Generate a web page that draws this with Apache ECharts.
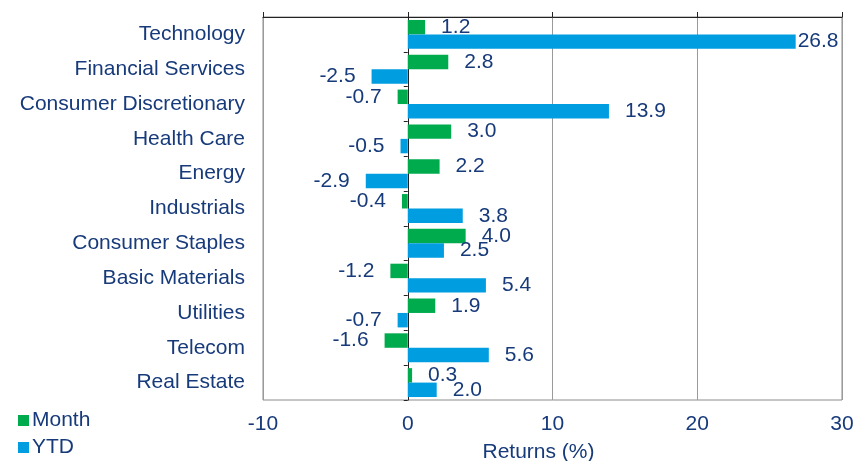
<!DOCTYPE html>
<html>
<head>
    <meta charset="UTF-8"/>
    <title>sector returns</title>
    <script type="text/javascript" src="https://cdn.jsdelivr.net/npm/echarts@6/dist/echarts.min.js"></script>
    <style>
        html, body { margin: 0; padding: 0; background: #fff; }
        #chart { width: 855px; height: 461px; }
    </style>
</head>
<body>
<div id="chart"></div>
<script>
    // 数据
    var sectors = ['Technology', 'Financial Services', 'Consumer Discretionary', 'Health Care', 'Energy',
        'Industrials', 'Consumer Staples', 'Basic Materials', 'Utilities', 'Telecom', 'Real Estate'];
    var monthVals = [1.2, 2.8, -0.7, 3.0, 2.2, -0.4, 4.0, -1.2, 1.9, -1.6, 0.3];
    var ytdVals = [26.8, -2.5, 13.9, -0.5, -2.9, 3.8, 2.5, 5.4, -0.7, 5.6, 2.0];
    var xTicks = [-10, 0, 10, 20, 30];

    var navy = '#173a7a';
    var font = 'Liberation Sans';
    var fs = 21;

    // 正数标签放右边, 负数放左边
    function toItems(vals) {
        return vals.map(function (v) {
            var item = {value: v, label: {position: v < 0 ? 'left' : 'right', distance: 16}};
            if (v > 25) item.label.distance = 2;   // 贴近右边框
            return item;
        });
    }

    var labelStyle = {
        show: true,
        color: navy,
        fontSize: fs,
        fontFamily: font,
        padding: [3, 0, 0, 0],
        formatter: function (p) { return p.value.toFixed(1); }
    };

    var chart = echarts.init(document.getElementById('chart'));
    chart.setOption({
        animation: false,
        textStyle: {fontFamily: font},
        grid: {
            left: 263, right: 13, top: 17, bottom: 61,
            containLabel: false,
            outerBoundsMode: 'none',
            show: true, borderColor: '#8c8c8c', borderWidth: 1
        },
        legend: {
            orient: 'vertical',
            left: 18, top: 410,
            padding: 0,
            icon: 'rect',
            itemWidth: 11, itemHeight: 11, itemGap: 6,
            textStyle: {color: navy, fontSize: fs, fontFamily: font, padding: [0, 0, 0, -2]},
            data: ['Month', 'YTD']
        },
        xAxis: [{
            type: 'value',
            position: 'bottom',
            min: xTicks[0], max: xTicks[xTicks.length - 1], interval: 10,
            name: 'Returns (%)',
            nameLocation: 'middle',
            nameGap: 42,
            nameTextStyle: {color: navy, fontSize: fs, fontFamily: font, padding: [0, 28, 0, 0]},
            axisLine: {show: false},
            axisTick: {show: false},
            axisLabel: {color: navy, fontSize: fs, fontFamily: font, margin: 14},
            splitLine: {show: true, lineStyle: {color: '#9a9a9a', width: 1}}
        }, {
            type: 'value',
            position: 'top',
            min: xTicks[0], max: xTicks[xTicks.length - 1], interval: 10,
            axisLine: {show: true, lineStyle: {color: '#222', width: 1}},
            axisTick: {show: true, inside: false, length: 5, lineStyle: {color: '#222'}},
            axisLabel: {show: false},
            splitLine: {show: false}
        }],
        yAxis: [{
            type: 'category',
            position: 'left',
            inverse: true,
            data: sectors,
            axisLine: {show: false, onZero: false},
            axisTick: {show: false},
            axisLabel: {color: navy, fontSize: fs, fontFamily: font, margin: 18, padding: [4, 0, 0, 0]}
        }, {
            type: 'category',
            position: 'left',
            inverse: true,
            data: sectors,
            axisLine: {show: true, onZero: true, lineStyle: {color: '#222', width: 1}},
            axisTick: {show: true, length: 4, lineStyle: {color: '#222'}},
            axisLabel: {show: false}
        }],
        series: [{
            name: 'Month',
            type: 'bar',
            xAxisIndex: 0,
            yAxisIndex: 0,
            data: toItems(monthVals),
            itemStyle: {color: '#00ab4e'},
            label: labelStyle,
            barGap: '0%',
            barCategoryGap: '17%'
        }, {
            name: 'YTD',
            type: 'bar',
            xAxisIndex: 0,
            yAxisIndex: 0,
            data: toItems(ytdVals),
            itemStyle: {color: '#009ee0'},
            label: labelStyle,
            barGap: '0%',
            barCategoryGap: '17%'
        }]
    });
</script>
</body>
</html>
